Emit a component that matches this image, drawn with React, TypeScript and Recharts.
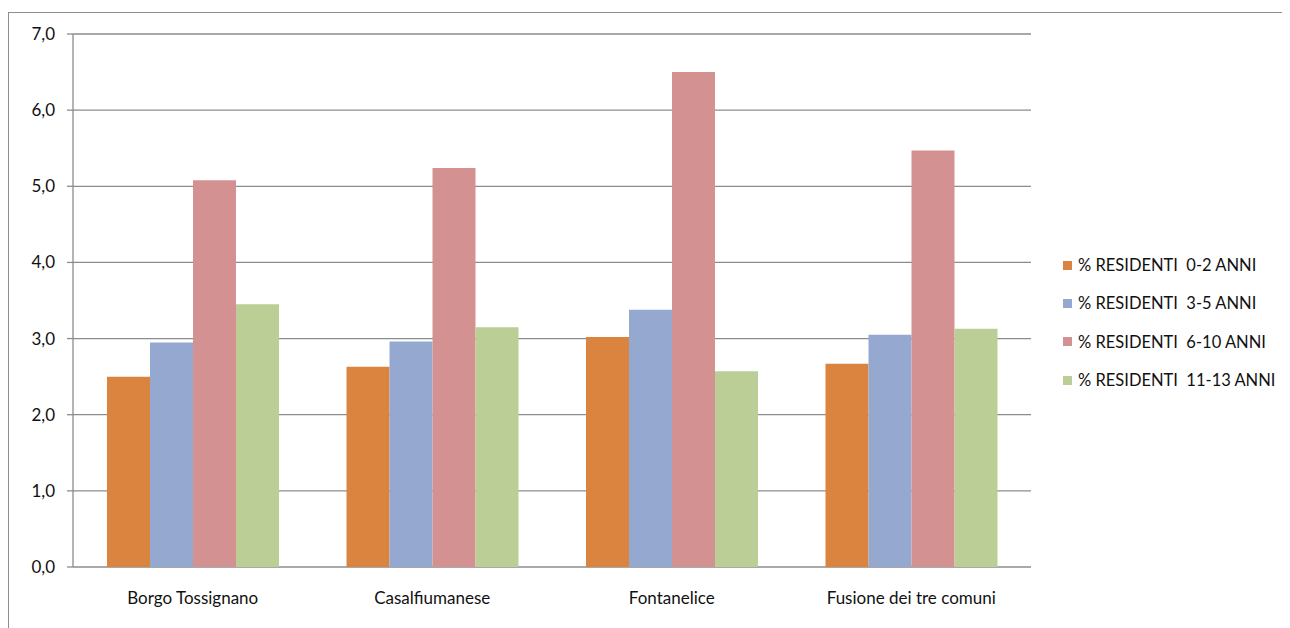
import { Bar, BarChart, CartesianGrid, XAxis, YAxis } from 'recharts';

const comuni = ['Borgo Tossignano', 'Casalfiumanese', 'Fontanelice', 'Fusione dei tre comuni'];

const res0_2 = [2.5, 2.63, 3.02, 2.67];
const res3_5 = [2.95, 2.96, 3.38, 3.05];
const res6_10 = [5.08, 5.24, 6.5, 5.47];
const res11_13 = [3.45, 3.15, 2.57, 3.13];

const yTicks = [0, 1, 2, 3, 4, 5, 6, 7];
const edgeTicks = [0, 1, 2, 3, 4];

const series = [
    { key: 'a', name: '% RESIDENTI  0-2 ANNI', color: '#DB843F', values: res0_2 },
    { key: 'b', name: '% RESIDENTI  3-5 ANNI', color: '#95A9D0', values: res3_5 },
    { key: 'c', name: '% RESIDENTI  6-10 ANNI', color: '#D39291', values: res6_10 },
    { key: 'd', name: '% RESIDENTI  11-13 ANNI', color: '#BACE95', values: res11_13 },
];

const data = comuni.map((c, i) => {
    const row: Record<string, string | number> = { comune: c };
    series.forEach((s) => (row[s.key] = s.values[i]));
    return row;
});

const FONT = 'Lato, "Open Sans", sans-serif';
const tickStyle = { fontSize: 17, fill: '#111', fontFamily: FONT };

function LegendBox() {
    return (
        <div style={{ position: 'absolute', left: 1054, top: 233, fontFamily: FONT, fontSize: 16.5, color: '#111' }}>
            {series.map((s) => (
                <div key={s.key} style={{ display: 'flex', alignItems: 'center', height: 38.3 }}>
                    <span style={{ width: 9, height: 9, background: s.color, marginRight: 6 }} />
                    <span style={{ whiteSpace: 'pre' }}>{s.name}</span>
                </div>
            ))}
        </div>
    );
}

export default function App() {
    return (
        <div
            style={{
                position: 'relative',
                marginTop: 4,
                borderTop: '1.5px solid #8e8e8e',
                borderLeft: '1.5px solid #8e8e8e',
                width: 1281,
                height: 615,
            }}
        >
            <BarChart
                width={1281}
                height={615}
                data={data}
                margin={{ top: 21, right: 259, left: 0, bottom: 0 }}
                barCategoryGap="14.2%"
                barGap={0}
            >
                <CartesianGrid horizontal vertical={false} stroke="#8c8c8c" strokeWidth={1.3} xAxisId="edges" yAxisId="v" />
                <XAxis
                    xAxisId="edges"
                    type="number"
                    domain={[0, 4]}
                    ticks={edgeTicks}
                    tick={() => <g />}
                    tickSize={6}
                    height={0}
                    stroke="#8c8c8c"
                    strokeWidth={1.3}
                    allowDataOverflow
                />
                <XAxis
                    xAxisId="cat"
                    dataKey="comune"
                    axisLine={false}
                    tickLine={false}
                    tickSize={0}
                    tickMargin={25}
                    height={61}
                    interval={0}
                    tick={tickStyle}
                />
                <YAxis
                    yAxisId="v"
                    width={64}
                    domain={[0, 7]}
                    ticks={yTicks}
                    tickFormatter={(v: number) => v.toFixed(1).replace('.', ',')}
                    tickSize={6}
                    tickMargin={12}
                    stroke="#8c8c8c"
                    strokeWidth={1.3}
                    tick={tickStyle}
                />
                {series.map((s) => (
                    <Bar
                        key={s.key}
                        dataKey={s.key}
                        name={s.name}
                        fill={s.color}
                        xAxisId="cat"
                        yAxisId="v"
                        isAnimationActive={false}
                    />
                ))}
            </BarChart>
            <LegendBox />
        </div>
    );
}
